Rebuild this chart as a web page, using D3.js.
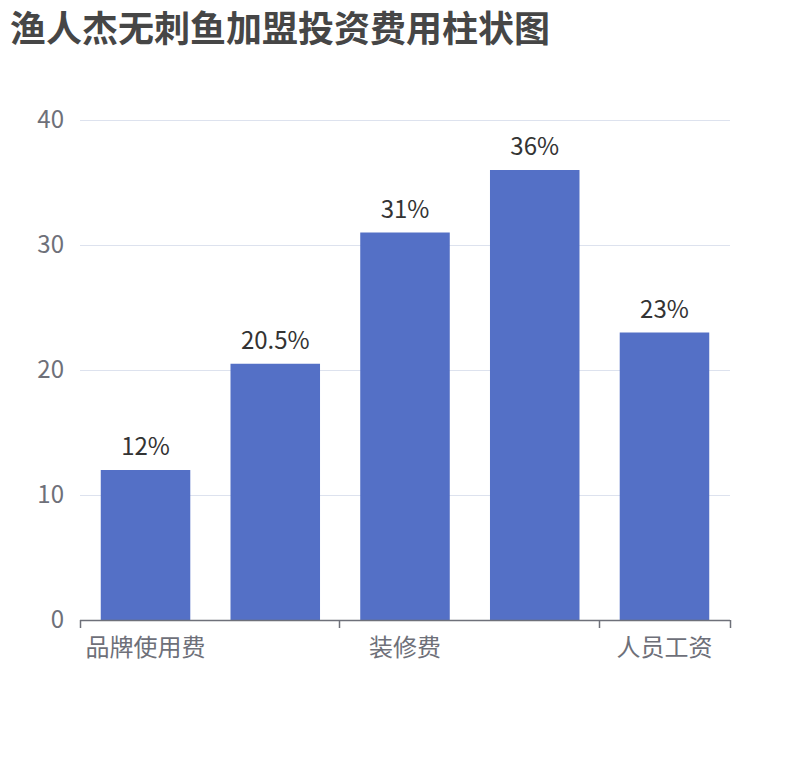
<!DOCTYPE html>
<html lang="zh">
<head>
<meta charset="UTF-8">
<title>渔人杰无刺鱼加盟投资费用柱状图</title>
<script src="https://d3js.org/d3.v7.min.js"></script>
<style>
  body { margin: 0; background: #fff; }
  text { font-family: "Noto Sans CJK SC", "Noto Sans", sans-serif; }
</style>
</head>
<body>
<svg id="main" width="810" height="760"></svg>
<script>
// data
const categories = ['品牌使用费', '加盟费', '装修费', '设备费', '人员工资'];
const values = [12, 20.5, 31, 36, 23];
const yTicks = [0, 10, 20, 30, 40];
const title = '渔人杰无刺鱼加盟投资费用柱状图';

const svg = d3.select('svg#main');
const plotLeft = 80, plotRight = 730, plotTop = 120, plotBottom = 620;

let x = d3.scaleBand().domain(categories).range([plotLeft, plotRight]).paddingInner(0.31).paddingOuter(0.16);
let y = d3.scaleLinear().domain([0, 40]).range([plotBottom, plotTop]);

svg.append('text')
    .attr('x', 10).attr('y', 42)
    .attr('font-size', 36).attr('font-weight', 'bold')
    .attr('fill', '#464646')
    .text(title);

// grid lines
svg.append('g').selectAll('line')
    .data(yTicks.filter(d => d > 0))
    .enter().append('line')
    .attr('x1', plotLeft).attr('x2', plotRight)
    .attr('y1', d => y(d) + 0.5).attr('y2', d => y(d) + 0.5)
    .attr('stroke', '#DDE2EE');

// y labels
svg.append('g').selectAll('text')
    .data(yTicks)
    .enter().append('text')
    .attr('x', plotLeft - 16).attr('y', d => y(d))
    .attr('dy', '0.35em')
    .attr('text-anchor', 'end')
    .attr('font-size', 24)
    .attr('fill', '#6E7079')
    .text(d => d);

// bars
svg.append('g').selectAll('rect')
    .data(values)
    .enter().append('rect')
    .attr('x', (d, i) => x(categories[i]))
    .attr('width', x.bandwidth())
    .attr('y', d => y(d))
    .attr('height', d => y(0) - y(d))
    .attr('fill', '#5470C6');

// bar labels
svg.append('g').selectAll('text')
    .data(values)
    .enter().append('text')
    .attr('x', (d, i) => x(categories[i]) + x.bandwidth() / 2)
    .attr('y', d => y(d) - 15)
    .attr('text-anchor', 'middle')
    .attr('font-size', 24)
    .attr('fill', '#333')
    .text(d => d + '%');

// x axis: labels every other category, ticks at band edges
svg.append('line')
    .attr('x1', plotLeft).attr('x2', plotRight)
    .attr('y1', plotBottom + 0.5).attr('y2', plotBottom + 0.5)
    .attr('stroke', '#6E7079').attr('stroke-width', 1.5);

const shown = categories.filter((c, i) => i % 2 === 0);
const tickPos = shown.map(c => x(c) - x.step() * x.paddingOuter()).concat([plotRight]);
svg.append('g').selectAll('line')
    .data(tickPos)
    .enter().append('line')
    .attr('x1', d => Math.round(d) + 0.5).attr('x2', d => Math.round(d) + 0.5)
    .attr('y1', plotBottom).attr('y2', plotBottom + 8)
    .attr('stroke', '#6E7079').attr('stroke-width', 1.5);

svg.append('g').selectAll('text')
    .data(shown)
    .enter().append('text')
    .attr('x', d => x(d) + x.bandwidth() / 2)
    .attr('y', plotBottom + 28)
    .attr('dy', '0.35em')
    .attr('text-anchor', 'middle')
    .attr('font-size', 24)
    .attr('fill', '#6E7079')
    .text(d => d);
</script>
</body>
</html>
